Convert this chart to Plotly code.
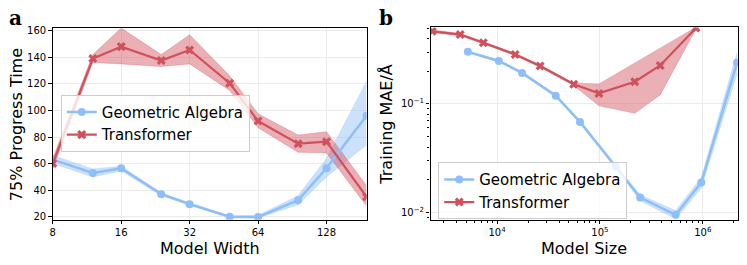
import math
import plotly.graph_objects as go

# ---------- data: panel a ----------
widths = [8, 12, 16, 24, 32, 48, 64, 96, 128, 192]
ga_time = [63, 53, 56.5, 37, 29.5, 20, 19.8, 32.5, 56.5, 96]
ga_time_lo = [60, 50, 54.5, 36, 28.5, 19.2, 19, 29, 50, 74]
ga_time_hi = [66, 56, 58, 38, 30.5, 20.8, 21, 36, 64, 122]
tf_time = [60, 139, 148, 137.5, 145.5, 120.5, 92, 75, 76.5, 35]
tf_time_lo = [56, 136, 135, 133, 135, 115, 87, 68.5, 68, 28]
tf_time_hi = [64, 142, 162, 142, 157, 126, 97.5, 81.5, 84, 43.5]
width_ticks = [8, 16, 32, 64, 128]

# ---------- data: panel b ----------
ga_sizes = [5200, 10400, 17500, 37200, 64000, 143000, 246000, 545000, 966000, 2150000]
ga_mae = [0.302, 0.249, 0.193, 0.119, 0.0683, 0.0263, 0.0137, 0.0095, 0.0189, 0.24]
ga_mae_lo = [0.295, 0.243, 0.188, 0.116, 0.0665, 0.0255, 0.0128, 0.0087, 0.0168, 0.19]
ga_mae_hi = [0.309, 0.255, 0.198, 0.122, 0.070, 0.0271, 0.0145, 0.0104, 0.021, 0.30]
tf_sizes = [2350, 4390, 7360, 15000, 26200, 55600, 97800, 218000, 385000, 857000]
tf_mae = [0.467, 0.436, 0.366, 0.286, 0.224, 0.152, 0.125, 0.160, 0.226, 0.50]
tf_mae_lo = [0.455, 0.425, 0.357, 0.279, 0.218, 0.148, 0.096, 0.082, 0.121, 0.49]
tf_mae_hi = [0.48, 0.447, 0.375, 0.293, 0.23, 0.156, 0.153, 0.238, 0.324, 0.51]

BLUE = "#8fbff8"
BLUE_F = "rgba(143,191,248,0.45)"
RED = "#d0505c"
RED_F = "rgba(208,80,92,0.45)"
FONT = "DejaVu Sans"

W, H = 747, 265
fig = go.Figure()


def band(x, lo, hi, fill, xa, ya):
    fig.add_trace(go.Scatter(x=x, y=hi, mode="lines", line=dict(width=0.6, color=fill),
                             showlegend=False, hoverinfo="skip", xaxis=xa, yaxis=ya))
    fig.add_trace(go.Scatter(x=x, y=lo, mode="lines", line=dict(width=0.6, color=fill),
                             fill="tonexty", fillcolor=fill,
                             showlegend=False, hoverinfo="skip", xaxis=xa, yaxis=ya))


def line(x, y, color, name, symbol, size, lw, xa, ya, legend):
    fig.add_trace(go.Scatter(x=x, y=y, mode="lines+markers", name=name,
                             line=dict(color=color, width=lw),
                             marker=dict(color=color, symbol=symbol, size=size,
                                         line=dict(width=0)),
                             xaxis=xa, yaxis=ya, legend=legend))


# panel a
band(widths, ga_time_lo, ga_time_hi, BLUE_F, "x", "y")
band(widths, tf_time_lo, tf_time_hi, RED_F, "x", "y")
line(widths, ga_time, BLUE, "Geometric Algebra", "circle", 8, 2.5, "x", "y", "legend")
line(widths, tf_time, RED, "Transformer", "x", 8, 2.2, "x", "y", "legend")

# panel b
band(ga_sizes, ga_mae_lo, ga_mae_hi, BLUE_F, "x2", "y2")
band(tf_sizes, tf_mae_lo, tf_mae_hi, RED_F, "x2", "y2")
line(ga_sizes, ga_mae, BLUE, "Geometric Algebra", "circle", 8, 2.5, "x2", "y2", "legend2")
line(tf_sizes, tf_mae, RED, "Transformer", "x", 8, 2.2, "x2", "y2", "legend2")

ax_common = dict(showline=True, mirror=True, linecolor="black", linewidth=1.2,
                 ticks="outside", ticklen=3.5, tickwidth=1, tickcolor="black",
                 showgrid=True, gridcolor="#ebebeb", gridwidth=1, zeroline=False,
                 tickfont=dict(family=FONT, size=10, color="black"))

minor_x = [m * 10 ** e for e in range(3, 7) for m in range(2, 10)]
minor_y = [m * 10 ** e for e in range(-3, 0) for m in range(2, 10)]


def sup(e):
    return "10<sup>" + str(e).replace("-", "\u2212") + "</sup>"


leg_common = dict(xanchor="left", yanchor="top", traceorder="normal",
                  bgcolor="rgba(255,255,255,0.8)", bordercolor="#cccccc", borderwidth=1,
                  font=dict(family=FONT, size=15, color="black"), tracegroupgap=0,
                  itemwidth=30)

fig.update_layout(
    width=W, height=H, margin=dict(l=0, r=0, t=0, b=0),
    plot_bgcolor="white", paper_bgcolor="white",
    font=dict(family=FONT, color="black"),
    xaxis=dict(type="log", domain=[50 / W, 365 / W],
               range=[math.log10(8), math.log10(192)],
               tickvals=width_ticks, ticktext=[str(v) for v in width_ticks],
               anchor="y", **ax_common),
    yaxis=dict(domain=[1 - 221.7 / H, 1 - 26 / H], range=[17.8, 161.7],
               tickvals=[20, 40, 60, 80, 100, 120, 140, 160], anchor="x", **ax_common),
    xaxis2=dict(type="log", domain=[429.3 / W, 737.7 / W],
                range=[3.354, 6.339],
                tickvals=[1e4, 1e5, 1e6], ticktext=[sup(4), sup(5), sup(6)],
                minor=dict(tickvals=minor_x, ticks="outside", ticklen=2,
                           tickcolor="black", showgrid=False),
                anchor="y2", **ax_common),
    yaxis2=dict(type="log", domain=[1 - 221.7 / H, 1 - 25 / H],
                range=[-2.067, -0.295],
                tickvals=[0.01, 0.1], ticktext=[sup(-2), sup(-1)],
                minor=dict(tickvals=minor_y, ticks="outside", ticklen=2,
                           tickcolor="black", showgrid=False),
                anchor="x2", **ax_common),
    legend=dict(x=58 / W, y=1 - 94 / H, **leg_common),
    legend2=dict(x=437 / W, y=1 - 163 / H, **leg_common),
)

annots = [
    dict(text="<b>a</b>", x=13 / W, y=1 - 15 / H, font=dict(family="DejaVu Serif", size=20)),
    dict(text="<b>b</b>", x=385 / W, y=1 - 15 / H, font=dict(family="DejaVu Serif", size=20)),
    dict(text="Model Width", x=208 / W, y=1 - 251 / H, font=dict(family=FONT, size=16)),
    dict(text="Model Size", x=583 / W, y=1 - 251 / H, font=dict(family=FONT, size=16)),
    dict(text="75% Progress Time", x=13 / W, y=1 - 124 / H, textangle=-90,
         font=dict(family=FONT, size=16)),
    dict(text="Training MAE/Å", x=385 / W, y=1 - 124 / H, textangle=-90,
         font=dict(family=FONT, size=16)),
]
for a in annots:
    fig.add_annotation(xref="paper", yref="paper", showarrow=False,
                       xanchor="center", yanchor="middle", **a)

fig.write_html("out.html", config={"displayModeBar": False},
               post_script="document.body.style.margin='0';document.body.style.padding='0';")
